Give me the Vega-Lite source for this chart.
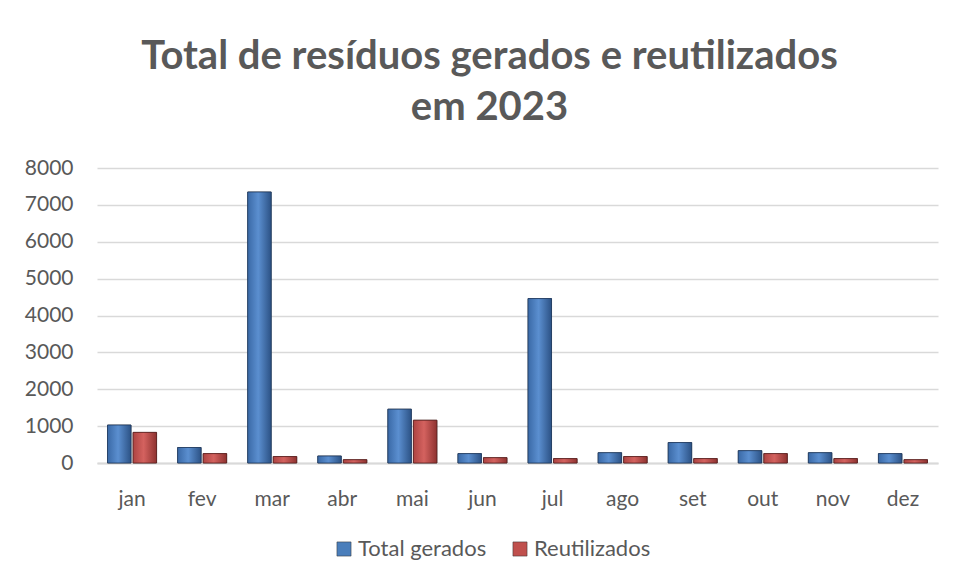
{
  "$schema": "https://vega.github.io/schema/vega-lite/v6.json",
  "width": 841,
  "height": 295,
  "autosize": "none",
  "padding": {"left": 97, "top": 168, "right": 17, "bottom": 114},
  "background": "white",
  "title": {
    "text": ["Total de resíduos gerados e reutilizados", "em 2023"],
    "font": "Lato",
    "fontSize": 40,
    "fontWeight": "bold",
    "color": "#595959",
    "anchor": "middle",
    "lineHeight": 51,
    "offset": 29,
    "dx": -28
  },
  "data": {
    "values": [
      {"mes": "jan", "serie": "Total gerados", "valor": 1030},
      {"mes": "jan", "serie": "Reutilizados", "valor": 830},
      {"mes": "fev", "serie": "Total gerados", "valor": 420},
      {"mes": "fev", "serie": "Reutilizados", "valor": 255},
      {"mes": "mar", "serie": "Total gerados", "valor": 7350},
      {"mes": "mar", "serie": "Reutilizados", "valor": 175},
      {"mes": "abr", "serie": "Total gerados", "valor": 190},
      {"mes": "abr", "serie": "Reutilizados", "valor": 90},
      {"mes": "mai", "serie": "Total gerados", "valor": 1460},
      {"mes": "mai", "serie": "Reutilizados", "valor": 1160},
      {"mes": "jun", "serie": "Total gerados", "valor": 255},
      {"mes": "jun", "serie": "Reutilizados", "valor": 145},
      {"mes": "jul", "serie": "Total gerados", "valor": 4460},
      {"mes": "jul", "serie": "Reutilizados", "valor": 120},
      {"mes": "ago", "serie": "Total gerados", "valor": 280},
      {"mes": "ago", "serie": "Reutilizados", "valor": 175},
      {"mes": "set", "serie": "Total gerados", "valor": 555},
      {"mes": "set", "serie": "Reutilizados", "valor": 120},
      {"mes": "out", "serie": "Total gerados", "valor": 335},
      {"mes": "out", "serie": "Reutilizados", "valor": 255},
      {"mes": "nov", "serie": "Total gerados", "valor": 280},
      {"mes": "nov", "serie": "Reutilizados", "valor": 120},
      {"mes": "dez", "serie": "Total gerados", "valor": 255},
      {"mes": "dez", "serie": "Reutilizados", "valor": 90}
    ]
  },
  "encoding": {
    "x": {
      "field": "mes",
      "type": "nominal",
      "sort": ["jan", "fev", "mar", "abr", "mai", "jun", "jul", "ago", "set", "out", "nov", "dez"],
      "scale": {"paddingInner": 0.3, "paddingOuter": 0.15},
      "axis": {
        "title": null,
        "labelAngle": 0,
        "labelFont": "Lato",
        "labelFontSize": 21,
        "labelColor": "#595959",
        "labelPadding": 25,
        "ticks": false,
        "domainColor": "#d9d9d9",
        "domainWidth": 2,
        "grid": false
      }
    },
    "xOffset": {
      "field": "serie",
      "type": "nominal",
      "scale": {"domain": ["Total gerados", "Reutilizados"], "paddingInner": 0.08}
    },
    "y": {
      "field": "valor",
      "type": "quantitative",
      "scale": {"domain": [0, 8000], "nice": false},
      "axis": {
        "title": null,
        "values": [0, 1000, 2000, 3000, 4000, 5000, 6000, 7000, 8000],
        "format": "d",
        "labelFont": "Lato",
        "labelFontSize": 21,
        "labelColor": "#595959",
        "labelPadding": 24,
        "ticks": false,
        "domain": false,
        "gridColor": "#d9d9d9",
        "gridWidth": 1.5
      }
    }
  },
  "layer": [
    {
      "mark": {"type": "bar", "stroke": "#333333", "strokeWidth": 0.8, "strokeOpacity": 0.7},
      "encoding": {
        "color": {
          "field": "serie",
          "type": "nominal",
          "scale": {"domain": ["Total gerados", "Reutilizados"], "range": ["#4a7ebb", "#c0504d"]},
          "legend": {
            "title": null,
            "orient": "none",
            "legendX": 236,
            "legendY": 370,
            "direction": "horizontal",
            "symbolType": "square",
            "symbolSize": 200,
            "symbolStrokeColor": "#333333",
            "symbolStrokeWidth": 0.5,
            "labelFont": "Lato",
            "labelFontSize": 22,
            "labelColor": "#595959",
            "labelOffset": 3,
            "columnPadding": 22
          }
        }
      }
    },
    {
      "transform": [{"filter": "datum.serie == 'Total gerados'"}],
      "mark": {
        "type": "bar",
        "stroke": "#1f3a5f",
        "strokeWidth": 0.8,
        "fill": {
          "gradient": "linear",
          "x1": 0, "y1": 0, "x2": 1, "y2": 0,
          "stops": [
            {"offset": 0, "color": "#3a69a6"},
            {"offset": 0.45, "color": "#5b8fd0"},
            {"offset": 1, "color": "#2c5285"}
          ]
        }
      }
    },
    {
      "transform": [{"filter": "datum.serie == 'Reutilizados'"}],
      "mark": {
        "type": "bar",
        "stroke": "#5a1f1e",
        "strokeWidth": 0.8,
        "fill": {
          "gradient": "linear",
          "x1": 0, "y1": 0, "x2": 1, "y2": 0,
          "stops": [
            {"offset": 0, "color": "#ad4442"},
            {"offset": 0.45, "color": "#d4625f"},
            {"offset": 1, "color": "#8e3230"}
          ]
        }
      }
    }
  ],
  "config": {"view": {"stroke": null}}
}
